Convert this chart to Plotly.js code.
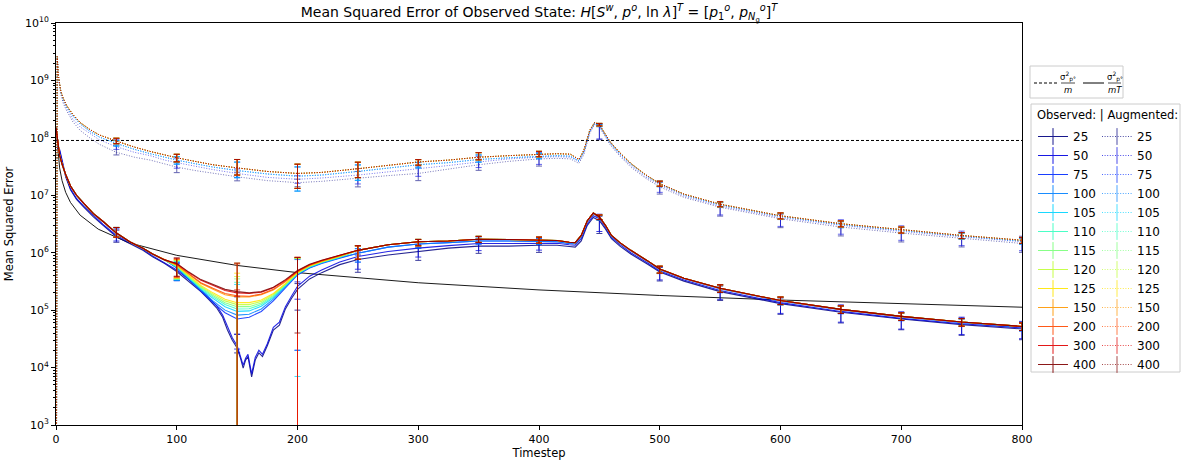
<!DOCTYPE html>
<html><head><meta charset="utf-8">
<script src="https://cdn.plot.ly/plotly-3.0.1.min.js"></script>
<style>html,body{margin:0;padding:0;background:#fff}#chart{width:1181px;height:461px}</style>
</head><body><div id="chart"></div>
<script>
// ---------- categories ----------
const ensembleSizes = [25, 50, 75, 100, 105, 110, 115, 120, 125, 150, 200, 300, 400];
const seriesColors = ['#000080','#0000e0','#002aff','#0080ff','#00d4ff','#37ffc0','#7bff7b','#c0ff37','#ffe600','#ff9700','#ff4800','#e00000','#800000'];

// ---------- reference lines ----------
const refLevelT = [0, 800];
const refLevelMSE = [9e7, 9e7];
const refDecayT = [1, 2, 3, 5, 8, 12, 20, 35, 60, 100, 150, 200, 300, 400, 500, 600, 700, 800];
const refDecayMSE = [9e7, 4.5e7, 3e7, 1.8e7, 1.125e7, 7.5e6, 4.5e6, 2.57e6, 1.5e6, 9e5, 6e5, 4.5e5, 3e5, 2.25e5, 1.8e5, 1.5e5, 1.29e5, 1.125e5];

// ---------- observed (solid) ----------
const tHead = [0, 1, 2, 3, 5, 8, 12, 17, 23, 31, 39, 50, 61, 72, 80, 90];
const obsHeadHigh = [1.5e8, 9.5e7, 6.5e7, 5.0e7, 3.5e7, 2.3e7, 1.45e7, 1.0e7, 7.2e6, 4.8e6, 3.5e6, 2.2e6, 1.55e6, 1.2e6, 9.5e5, 7.5e5];
const obsHead25 = [1.5e8, 8.0e7, 5.5e7, 6.0e7, 4.0e7, 2.1e7, 1.25e7, 8.5e6, 6.2e6, 4.2e6, 3.0e6, 1.9e6, 1.45e6, 1.1e6, 8.5e5, 6.5e5];
const obsHead50 = [1.5e8, 8.5e7, 6.0e7, 6.3e7, 4.3e7, 2.2e7, 1.3e7, 8.8e6, 6.5e6, 4.4e6, 3.1e6, 2.0e6, 1.5e6, 1.15e6, 8.8e5, 6.7e5];

const tMidA = [100, 110, 120, 130, 140, 150, 160, 170, 180, 190, 200, 210, 220, 235];
const obsMid75  = [5.4e5, 3.4e5, 2.1e5, 1.35e5, 9.0e4, 7.0e4, 7.5e4, 9.5e4, 1.45e5, 2.45e5, 4.1e5, 5.4e5, 6.5e5, 8.0e5];
const obsMid100 = [5.5e5, 3.5e5, 2.2e5, 1.45e5, 1.0e5, 8.2e4, 8.5e4, 1.05e5, 1.55e5, 2.55e5, 4.2e5, 5.5e5, 6.6e5, 8.2e5];
const obsMid105 = [5.6e5, 3.6e5, 2.3e5, 1.6e5, 1.15e5, 9.5e4, 9.7e4, 1.17e5, 1.65e5, 2.65e5, 4.3e5, 5.6e5, 6.7e5, 8.3e5];
const obsMid110 = [5.7e5, 3.7e5, 2.4e5, 1.7e5, 1.25e5, 1.05e5, 1.06e5, 1.25e5, 1.72e5, 2.7e5, 4.35e5, 5.7e5, 6.8e5, 8.4e5];
const obsMid115 = [5.8e5, 3.8e5, 2.5e5, 1.8e5, 1.35e5, 1.15e5, 1.15e5, 1.33e5, 1.8e5, 2.8e5, 4.4e5, 5.8e5, 6.9e5, 8.5e5];
const obsMid120 = [5.9e5, 3.9e5, 2.6e5, 1.9e5, 1.45e5, 1.25e5, 1.25e5, 1.42e5, 1.88e5, 2.85e5, 4.45e5, 5.85e5, 6.95e5, 8.6e5];
const obsMid125 = [6.0e5, 4.0e5, 2.7e5, 2.0e5, 1.55e5, 1.35e5, 1.35e5, 1.5e5, 1.95e5, 2.9e5, 4.5e5, 5.9e5, 7.0e5, 8.7e5];
const obsMid150 = [6.1e5, 4.2e5, 2.9e5, 2.3e5, 1.85e5, 1.7e5, 1.7e5, 1.85e5, 2.25e5, 3.1e5, 4.6e5, 6.0e5, 7.1e5, 8.8e5];
const obsMid200 = [6.2e5, 4.3e5, 3.0e5, 2.4e5, 1.95e5, 1.78e5, 1.75e5, 1.9e5, 2.3e5, 3.2e5, 4.7e5, 6.1e5, 7.2e5, 8.9e5];
const obsMid300 = [6.4e5, 4.5e5, 3.3e5, 2.7e5, 2.2e5, 2.0e5, 1.95e5, 2.05e5, 2.45e5, 3.3e5, 4.8e5, 6.2e5, 7.3e5, 9.0e5];
const obsMid400 = [6.5e5, 4.6e5, 3.4e5, 2.8e5, 2.3e5, 2.1e5, 2.0e5, 2.1e5, 2.5e5, 3.4e5, 4.9e5, 6.3e5, 7.4e5, 9.0e5];

const tMidNavy = [100, 110, 120, 127, 133, 138, 142, 146, 150, 153, 155, 157, 159, 162, 165, 168, 171, 175, 180, 185, 190, 195, 200, 210, 220, 235];
const obsMid25 = [4.7e5, 3.2e5, 2.1e5, 1.5e5, 1.1e5, 7.5e4, 4.5e4, 3.0e4, 2.2e4, 1.4e4, 9.8e3, 1.35e4, 1.55e4, 6.9e3, 1.35e4, 1.8e4, 1.55e4, 2.4e4, 4.5e4, 5.5e4, 1.05e5, 1.6e5, 2.3e5, 3.5e5, 4.5e5, 6.2e5];
const obsMid50 = [5.0e5, 3.4e5, 2.25e5, 1.6e5, 1.2e5, 8.2e4, 5.0e4, 3.3e4, 2.4e4, 1.55e4, 1.1e4, 1.45e4, 1.7e4, 7.8e3, 1.5e4, 2.0e4, 1.7e4, 2.6e4, 5.0e4, 6.2e4, 1.15e5, 1.75e5, 2.6e5, 3.9e5, 5.0e5, 6.9e5];

const tTail = [250, 275, 300, 325, 350, 375, 400, 415, 425, 430, 435, 440, 445, 450, 455, 460, 467, 476, 490, 500, 520, 550, 600, 650, 700, 750, 800];
const obsTailHigh = [1.1e6, 1.38e6, 1.55e6, 1.6e6, 1.72e6, 1.7e6, 1.67e6, 1.63e6, 1.52e6, 1.5e6, 2.0e6, 3.6e6, 4.9e6, 4.2e6, 3.0e6, 2.0e6, 1.5e6, 1.1e6, 7.2e5, 5.2e5, 3.6e5, 2.4e5, 1.47e5, 1.03e5, 7.8e4, 6.2e4, 5.2e4];
const obsTailMid = [9.8e5, 1.25e6, 1.42e6, 1.5e6, 1.6e6, 1.6e6, 1.58e6, 1.55e6, 1.45e6, 1.43e6, 1.9e6, 3.5e6, 4.8e6, 4.1e6, 2.95e6, 1.95e6, 1.47e6, 1.08e6, 7.1e5, 5.1e5, 3.55e5, 2.37e5, 1.45e5, 1.02e5, 7.7e4, 6.1e4, 5.1e4];
const obsTail25 = [7.6e5, 9.1e5, 1.05e6, 1.2e6, 1.3e6, 1.3e6, 1.35e6, 1.35e6, 1.28e6, 1.25e6, 1.6e6, 3.0e6, 4.1e6, 3.6e6, 2.6e6, 1.75e6, 1.3e6, 9.5e5, 6.3e5, 4.6e5, 3.2e5, 2.1e5, 1.3e5, 9.2e4, 7.0e4, 5.6e4, 4.7e4];
const obsTail50 = [8.6e5, 1.05e6, 1.2e6, 1.33e6, 1.45e6, 1.45e6, 1.48e6, 1.46e6, 1.38e6, 1.35e6, 1.75e6, 3.2e6, 4.4e6, 3.9e6, 2.75e6, 1.85e6, 1.38e6, 1.0e6, 6.6e5, 4.8e5, 3.35e5, 2.2e5, 1.35e5, 9.5e4, 7.2e4, 5.8e4, 4.9e4];

// ---------- augmented (dotted) ----------
const tAug = [0, 1, 2, 4, 6, 9, 14, 20, 28, 36, 50, 65, 78, 90, 100, 115, 130, 150, 175, 200, 220, 250, 275, 300, 325, 350, 375, 400, 415, 426, 433, 437, 442, 446, 450, 459, 467, 476, 488, 500, 520, 550, 600, 650, 700, 750, 800];
const augHigh = [0.01, 2.6e9, 1.2e9, 6.5e8, 4.9e8, 3.6e8, 2.55e8, 1.85e8, 1.4e8, 1.12e8, 8.8e7, 6.9e7, 5.8e7, 5.0e7, 4.5e7, 3.9e7, 3.4e7, 3.0e7, 2.6e7, 2.4e7, 2.5e7, 2.9e7, 3.35e7, 3.8e7, 4.1e7, 4.6e7, 4.9e7, 5.2e7, 5.3e7, 5.2e7, 4.2e7, 6.0e7, 1.35e8, 1.85e8, 1.7e8, 8.5e7, 5.5e7, 3.6e7, 2.3e7, 1.6e7, 1.05e7, 7.0e6, 4.4e6, 3.2e6, 2.5e6, 2.0e6, 1.65e6];
const augMidBlue = [0.01, 2.6e9, 1.18e9, 6.3e8, 4.7e8, 3.4e8, 2.4e8, 1.75e8, 1.3e8, 1.03e8, 8.0e7, 6.3e7, 5.3e7, 4.6e7, 4.1e7, 3.55e7, 3.1e7, 2.7e7, 2.35e7, 2.15e7, 2.25e7, 2.6e7, 3.0e7, 3.4e7, 3.7e7, 4.2e7, 4.5e7, 4.8e7, 4.9e7, 4.8e7, 3.95e7, 5.7e7, 1.3e8, 1.8e8, 1.65e8, 8.2e7, 5.3e7, 3.5e7, 2.25e7, 1.57e7, 1.02e7, 6.8e6, 4.3e6, 3.1e6, 2.45e6, 1.95e6, 1.6e6];
const aug25 = [0.01, 2.6e9, 1.1e9, 5.8e8, 4.0e8, 2.9e8, 1.9e8, 1.35e8, 1.0e8, 7.7e7, 5.6e7, 4.6e7, 4.1e7, 3.5e7, 3.1e7, 2.7e7, 2.4e7, 2.1e7, 1.8e7, 1.66e7, 1.75e7, 2.0e7, 2.2e7, 2.4e7, 2.9e7, 3.4e7, 3.9e7, 4.3e7, 4.4e7, 4.3e7, 3.6e7, 5.0e7, 1.2e8, 1.7e8, 1.55e8, 7.5e7, 4.8e7, 3.1e7, 2.0e7, 1.4e7, 9.2e6, 6.2e6, 3.9e6, 2.8e6, 2.2e6, 1.8e6, 1.45e6];
const aug50 = [0.01, 2.6e9, 1.15e9, 6.1e8, 4.4e8, 3.2e8, 2.1e8, 1.55e8, 1.2e8, 9.2e7, 7.0e7, 5.6e7, 4.9e7, 4.1e7, 3.7e7, 3.2e7, 2.8e7, 2.4e7, 2.05e7, 1.9e7, 2.0e7, 2.25e7, 2.55e7, 2.85e7, 3.3e7, 3.8e7, 4.3e7, 4.6e7, 4.7e7, 4.6e7, 3.9e7, 5.4e7, 1.25e8, 1.75e8, 1.6e8, 8.0e7, 5.0e7, 3.3e7, 2.1e7, 1.5e7, 9.7e6, 6.5e6, 4.1e6, 3.0e6, 2.35e6, 1.9e6, 1.55e6];

// ---------- error bars (checkpoints every 50 steps) ----------
const tErr = [50, 100, 150, 200, 250, 300, 350, 400, 450, 500, 550, 600, 650, 700, 750, 800];
const obsErrUpHigh   = [0.25, 0.25, 0, 0, 0.2, 0.1, 0.12, 0.12, 0.08, 0.12, 0.15, 0.15, 0.15, 0.15, 0.15, 0.15];
const obsErrDownHigh = [0.15, 0.4, 0, 0, 0.3, 0.15, 0.12, 0.12, 0.1, 0.15, 0.15, 0.15, 0.15, 0.15, 0.15, 0.15];
const obsErrUpNavy   = [0.3, 0.3, 0, 0, 0.2, 0.15, 0.15, 0.15, 0.2, 0.2, 0.25, 0.25, 0.3, 0.3, 0.3, 0.3];
const obsErrDownNavy = [0.2, 0.3, 0, 0, 0.4, 0.3, 0.25, 0.25, 0.4, 0.3, 0.3, 0.35, 0.35, 0.35, 0.35, 0.35];
const obsErr150Up   = [1.6e4, 1.4e4, 1.0e5, 1.2e5, 1.85e5, 2.0e5, 2.35e5, 2.6e5, 3.05e5, 4.9e5, 4.6e5, 2.5e4, 4.5e5];
const obsErr150Down = [4e3, 3e3, 1e5, 1e5, 1e5, 1.1e5, 1.2e5, 1.3e5, 1.4e5, 2e5, 2e5, 2.5e4, 2.5e5];
const obsErr200Up   = [6e4, 5e4, 3.5e5, 3.8e5, 3.9e5, 3.5e5, 3.5e5, 3.6e5, 3.6e5, 3.7e5, 3.6e5, 3.5e5, 3.4e5];
const obsErr200Down = [1.3e5, 1.05e5, 3.9e5, 4.0e5, 4.23e5, 5e5, 5e5, 5e5, 5e5, 6e5, 6e5, 6e5, 4.5e5];
const augErrUpHigh   = [0.12, 0.15, 0.4, 0.45, 0.3, 0.1, 0.2, 0.12, 0.05, 0.1, 0.1, 0.12, 0.12, 0.12, 0.12, 0.12];
const augErrDownHigh = [0.1, 0.15, 0.25, 0.45, 0.3, 0.12, 0.1, 0.1, 0.05, 0.1, 0.1, 0.12, 0.12, 0.12, 0.12, 0.12];
const augErrUpNavy   = [0.35, 0.2, 0.2, 0.15, 0.3, 0.3, 0.25, 0.2, 0.1, 0.2, 0.2, 0.2, 0.25, 0.25, 0.25, 0.25];
const augErrDownNavy = [0.1, 0.2, 0.15, 0.15, 0.3, 0.25, 0.2, 0.25, 0.4, 0.25, 0.3, 0.3, 0.3, 0.3, 0.3, 0.3];

// ---------- assemble ----------
const obsMidRows = [obsMid25, obsMid50, obsMid75, obsMid100, obsMid105, obsMid110, obsMid115, obsMid120, obsMid125, obsMid150, obsMid200, obsMid300, obsMid400];
function obsSeries(i) {
  const head = i === 0 ? obsHead25 : (i === 1 ? obsHead50 : obsHeadHigh);
  const tMid = i < 2 ? tMidNavy : tMidA;
  const tail = i === 0 ? obsTail25 : (i === 1 ? obsTail50 : (i < 4 ? obsTailMid : obsTailHigh));
  return { t: tHead.concat(tMid, tTail), y: head.concat(obsMidRows[i], tail) };
}
function augSeries(i) {
  return { t: tAug, y: i === 0 ? aug25 : (i === 1 ? aug50 : (i < 5 ? augMidBlue : augHigh)) };
}
function valueAt(s, t) { return s.y[s.t.indexOf(t)]; }

const traces = [];
traces.push({x: refLevelT, y: refLevelMSE, mode: 'lines', showlegend: false, line: {color: 'black', width: 1, dash: '3px,2px'}});
traces.push({x: refDecayT, y: refDecayMSE, mode: 'lines', showlegend: false, line: {color: 'black', width: 0.9}});

const legendTraces = [];
ensembleSizes.forEach((n, i) => {
  const c = seriesColors[i];
  const navy = i < 2;
  const o = obsSeries(i), a = augSeries(i);
  traces.push({x: o.t, y: o.y, mode: 'lines', showlegend: false, opacity: 0.85, line: {color: c, width: 1.1}});
  traces.push({x: a.t, y: a.y, mode: 'lines', showlegend: false, opacity: 0.55, line: {color: c, width: 1, dash: '1px,1.6px'}});
  const oy = [], oUp = [], oDn = [], ay = [], aUp = [], aDn = [];
  tErr.forEach((t, k) => {
    const v = valueAt(o, t);
    oy.push(v);
    if (t === 150) { oUp.push(obsErr150Up[i]); oDn.push(obsErr150Down[i]); }
    else if (t === 200) { oUp.push(obsErr200Up[i]); oDn.push(obsErr200Down[i]); }
    else {
      oUp.push(v * (navy ? obsErrUpNavy[k] : obsErrUpHigh[k]));
      oDn.push(v * (navy ? obsErrDownNavy[k] : obsErrDownHigh[k]));
    }
    const w = valueAt(a, t);
    ay.push(w);
    aUp.push(w * (navy ? augErrUpNavy[k] : augErrUpHigh[k]));
    aDn.push(w * (navy ? augErrDownNavy[k] : augErrDownHigh[k]));
  });
  traces.push({x: tErr, y: oy, mode: 'markers', marker: {size: 1, opacity: 0, color: c}, showlegend: false, opacity: 0.75,
    error_y: {type: 'data', symmetric: false, array: oUp, arrayminus: oDn, color: c, thickness: 1, width: 3}});
  traces.push({x: tErr, y: ay, mode: 'markers', marker: {size: 1, opacity: 0, color: c}, showlegend: false, opacity: 0.6,
    error_y: {type: 'data', symmetric: false, array: aUp, arrayminus: aDn, color: c, thickness: 1, width: 3}});
  legendTraces.push({x: [null], y: [null], mode: 'lines+markers', name: String(n), legend: 'legend2', opacity: 0.9,
    line: {color: c, width: 1}, marker: {symbol: 'line-ns-open', size: 12, color: c, line: {width: 1}}});
  legendTraces.push({x: [null], y: [null], mode: 'lines+markers', name: String(n), legend: 'legend3', opacity: 0.7,
    line: {color: c, width: 1, dash: '1px,1.6px'}, marker: {symbol: 'line-ns-open', size: 12, color: c, line: {width: 1}}});
});
legendTraces.sort((p, q) => (p.legend === q.legend ? 0 : (p.legend === 'legend2' ? -1 : 1)));

const px2x = p => (p - 56) / 966;
const px2y = p => (425 - p) / 402;
const font = 'DejaVu Sans, Liberation Sans, sans-serif';
const decades = [3, 4, 5, 6, 7, 8, 9, 10];
const sig = 'σ<sup>2</sup><sub>p°</sub>';

const layout = {
  width: 1181, height: 461,
  margin: {l: 56, r: 159, t: 23, b: 36, autoexpand: false},
  paper_bgcolor: 'white', plot_bgcolor: 'white',
  font: {family: font, size: 11, color: 'black'},
  showlegend: true,
  title: {text: 'Mean Squared Error of Observed State: <i>H</i>[<i>S</i><sup><i>w</i></sup>, <i>p</i><sup><i>o</i></sup>, ln <i>λ</i>]<sup><i>T</i></sup> = [<i>p</i><sub>1</sub><sup><i>o</i></sup>, <i>p</i><sub><i>N</i><sub>g</sub></sub><sup><i>o</i></sup>]<sup><i>T</i></sup>',
    font: {family: font, size: 14, color: 'black'}, x: 0.5, xref: 'paper', xanchor: 'center', y: 1 - 12 / 461, yref: 'container', yanchor: 'middle'},
  xaxis: {range: [0, 800], tickvals: [0, 100, 200, 300, 400, 500, 600, 700, 800], ticks: 'outside', ticklen: 4, tickwidth: 1,
    tickcolor: 'black', showline: true, linecolor: 'black', linewidth: 1, mirror: true, showgrid: false, zeroline: false,
    tickfont: {size: 11}, title: {text: 'Timestep', font: {size: 11.5}, standoff: 2}},
  yaxis: {type: 'log', range: [3, 10], tickvals: decades.map(d => Math.pow(10, d)), ticktext: decades.map(d => '10<sup>' + d + '</sup>'),
    ticks: 'outside', ticklen: 4, tickwidth: 1, tickcolor: 'black', showline: true, linecolor: 'black', linewidth: 1, mirror: true,
    showgrid: false, zeroline: false, tickfont: {size: 11},
    minor: {ticks: 'outside', ticklen: 2, tickcolor: 'black', dtick: 'D1', showgrid: false},
    title: {text: 'Mean Squared Error', font: {size: 11.5}, standoff: 8}},
  legend2: {x: px2x(1033), y: px2y(122), xanchor: 'left', yanchor: 'top', bgcolor: 'rgba(0,0,0,0)', borderwidth: 0,
    font: {size: 12}, itemwidth: 30, tracegroupgap: 0},
  legend3: {x: px2x(1097), y: px2y(122), xanchor: 'left', yanchor: 'top', bgcolor: 'rgba(0,0,0,0)', borderwidth: 0,
    font: {size: 12}, itemwidth: 30, tracegroupgap: 0},
  shapes: [
    {type: 'rect', xref: 'paper', yref: 'paper', x0: px2x(1031), x1: px2x(1180), y0: px2y(104), y1: px2y(372),
      line: {color: '#cccccc', width: 1}, fillcolor: 'rgba(0,0,0,0)', layer: 'below'},
    {type: 'rect', xref: 'paper', yref: 'paper', x0: px2x(1030), x1: px2x(1123), y0: px2y(66), y1: px2y(98),
      line: {color: '#cccccc', width: 1}, fillcolor: 'white'},
    {type: 'line', xref: 'paper', yref: 'paper', x0: px2x(1034), x1: px2x(1057), y0: px2y(83), y1: px2y(83),
      line: {color: 'black', width: 1, dash: '3px,2px'}},
    {type: 'line', xref: 'paper', yref: 'paper', x0: px2x(1061), x1: px2x(1075), y0: px2y(83), y1: px2y(83),
      line: {color: 'black', width: 0.7}},
    {type: 'line', xref: 'paper', yref: 'paper', x0: px2x(1083), x1: px2x(1104), y0: px2y(83), y1: px2y(83),
      line: {color: 'black', width: 1}},
    {type: 'line', xref: 'paper', yref: 'paper', x0: px2x(1108), x1: px2x(1121), y0: px2y(83), y1: px2y(83),
      line: {color: 'black', width: 0.7}}
  ],
  annotations: [
    {xref: 'paper', yref: 'paper', x: px2x(1035), y: px2y(115), xanchor: 'left', yanchor: 'middle', showarrow: false,
      text: 'Observed: | Augmented:', font: {size: 11.5}},
    {xref: 'paper', yref: 'paper', x: px2x(1068), y: px2y(76), xanchor: 'center', yanchor: 'middle', showarrow: false, text: sig, font: {size: 8.5}},
    {xref: 'paper', yref: 'paper', x: px2x(1068), y: px2y(90), xanchor: 'center', yanchor: 'middle', showarrow: false, text: '<i>m</i>', font: {size: 8.5}},
    {xref: 'paper', yref: 'paper', x: px2x(1114.5), y: px2y(76), xanchor: 'center', yanchor: 'middle', showarrow: false, text: sig, font: {size: 8.5}},
    {xref: 'paper', yref: 'paper', x: px2x(1114.5), y: px2y(90), xanchor: 'center', yanchor: 'middle', showarrow: false, text: '<i>mT</i>', font: {size: 8.5}}
  ]
};

Plotly.newPlot('chart', traces.concat(legendTraces), layout, {staticPlot: true, displayModeBar: false});
</script>
</body></html>
